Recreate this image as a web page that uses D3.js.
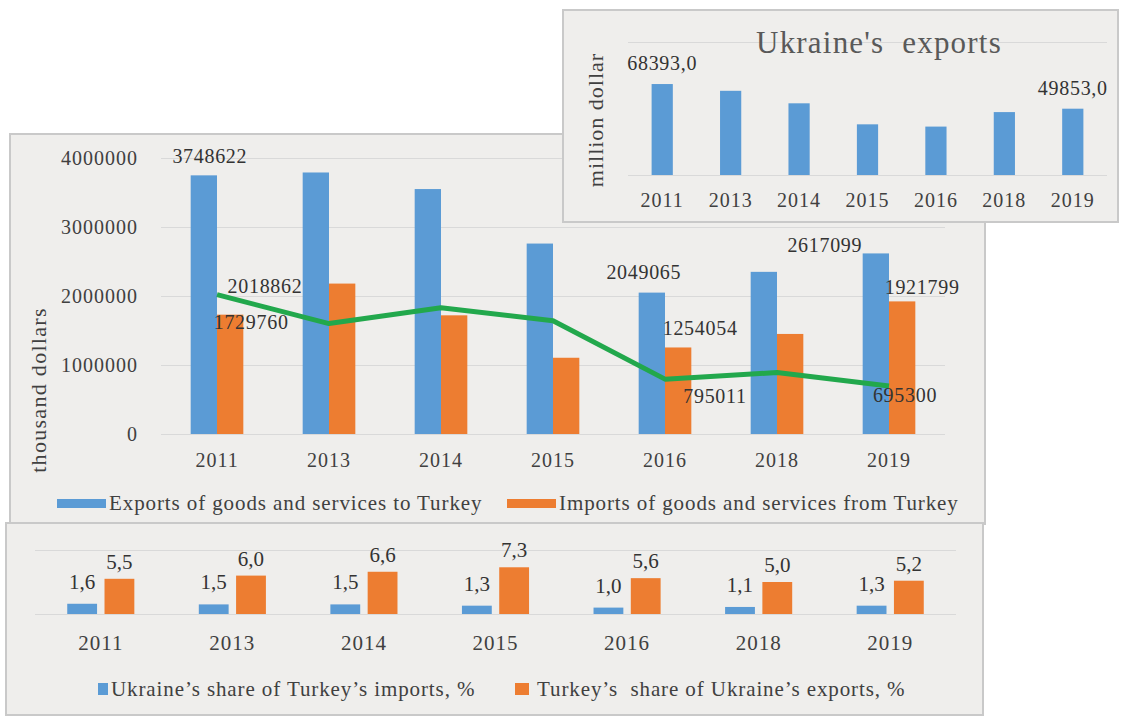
<!DOCTYPE html>
<html>
<head>
<meta charset="utf-8">
<script src="https://cdn.jsdelivr.net/npm/d3@7"></script>
<style>
  body { margin: 0; background: #fff; }
  svg { display: block; font-family: "Liberation Serif", "Times New Roman", serif; }
  text { white-space: pre; }
</style>
</head>
<body>
<svg id="chart" width="1124" height="717"></svg>
<script>
// categories shared by all three panels
const years = ['2011', '2013', '2014', '2015', '2016', '2018', '2019'];

// main panel, thousand dollars
const exportsToTurkey = [3748622, 3790000, 3550000, 2760000, 2049065, 2350000, 2617099];
const importsFromTurkey = [1729760, 2180000, 1720000, 1105000, 1254054, 1450000, 1921799];
const balanceLine = [2018862, 1600000, 1830000, 1640000, 795011, 890000, 695300];
const mainTicks = [0, 1000000, 2000000, 3000000, 4000000];
const labelledYears = ['2011', '2016', '2019']; // only these got data labels

// top panel, million dollar
const ukraineExports = [68393, 63300, 53900, 38100, 36400, 47300, 49853];
const ukraineLabelled = ['2011', '2019'];

// bottom panel, %
const shareTurkeyImports = [1.6, 1.5, 1.5, 1.3, 1.0, 1.1, 1.3];
const shareUkraineExports = [5.5, 6.0, 6.6, 7.3, 5.6, 5.0, 5.2];

const blue = '#5b9bd5';
const orange = '#ed7d31';
const green = '#22a84c';
const panelFill = '#efeeec';
const panelStroke = '#c9c9c9';
const gridColor = '#d9d9d9';
const textColor = '#404040';

const comma = d3.formatLocale({ decimal: ',', thousands: ' ', grouping: [3], currency: ['', ''] }).format('.1f');

const svg = d3.select('#chart');

function panel(x, y, w, h) {
  svg.append('rect')
    .attr('x', x).attr('y', y).attr('width', w).attr('height', h)
    .attr('fill', panelFill).attr('stroke', panelStroke).attr('stroke-width', 2);
}

function styleAxis(g, size) {
  g.select('.domain').remove();
  g.selectAll('text').attr('fill', textColor).attr('font-size', size)
    .attr('letter-spacing', 1)
    .attr('font-family', '"Liberation Serif", serif');
}

// ---------- main panel ----------
panel(10, 134, 975, 390);

const x = d3.scaleBand().domain(years).range([161, 945]).paddingInner(0.53).paddingOuter(0.265);
const xs = d3.scaleBand().domain(['exp', 'imp']).range([0, x.bandwidth()]);
const y = d3.scaleLinear().domain([0, 4000000]).range([434, 158]);

svg.append('g').attr('transform', 'translate(161,0)')
  .call(d3.axisLeft(y).tickValues(mainTicks).tickSize(-(945 - 161)).tickPadding(23).tickFormat(d3.format('d')))
  .call((g) => {
    styleAxis(g, 20);
    g.selectAll('line').attr('stroke', gridColor);
  });

svg.append('g').attr('transform', 'translate(0,434)')
  .call(d3.axisBottom(x).tickSize(0).tickPadding(19))
  .call((g) => styleAxis(g, 20));

const groups = svg.append('g').selectAll('g').data(years).join('g')
  .attr('transform', (d) => `translate(${x(d)},0)`);

groups.append('rect')
  .attr('x', xs('exp')).attr('width', xs.bandwidth())
  .attr('y', (d, i) => y(exportsToTurkey[i]))
  .attr('height', (d, i) => y(0) - y(exportsToTurkey[i]))
  .attr('fill', blue);

groups.append('rect')
  .attr('x', xs('imp')).attr('width', xs.bandwidth())
  .attr('y', (d, i) => y(importsFromTurkey[i]))
  .attr('height', (d, i) => y(0) - y(importsFromTurkey[i]))
  .attr('fill', orange);

const line = d3.line()
  .x((d, i) => x(years[i]) + x.bandwidth() / 2)
  .y((d) => y(d));

svg.append('path').datum(balanceLine)
  .attr('d', line)
  .attr('fill', 'none').attr('stroke', green).attr('stroke-width', 5)
  .attr('stroke-linejoin', 'round');

// hand-nudged label offsets, like the original chart (dx, dy from the mark)
const expNudge = { 2011: [6, -12], 2016: [-8, -14], 2019: [-51, -1] };
const impNudge = { 2011: [21, 14], 2016: [22, -12], 2019: [20, -7] };
const lineNudge = { 2011: [48, -2], 2016: [50, 24], 2019: [16, 16] };

const labels = svg.append('g').attr('font-size', 20).attr('fill', '#333')
  .attr('text-anchor', 'middle').attr('letter-spacing', 0.7);
labelledYears.forEach((yr) => {
  const i = years.indexOf(yr);
  const cx = x(yr);
  labels.append('text')
    .attr('x', cx + xs('exp') + xs.bandwidth() / 2 + expNudge[yr][0])
    .attr('y', y(exportsToTurkey[i]) + expNudge[yr][1])
    .text(exportsToTurkey[i]);
  labels.append('text')
    .attr('x', cx + xs('imp') + xs.bandwidth() / 2 + impNudge[yr][0])
    .attr('y', y(importsFromTurkey[i]) + impNudge[yr][1])
    .text(importsFromTurkey[i]);
  labels.append('text')
    .attr('x', cx + x.bandwidth() / 2 + lineNudge[yr][0])
    .attr('y', y(balanceLine[i]) + lineNudge[yr][1])
    .text(balanceLine[i]);
});

svg.append('text')
  .attr('transform', 'translate(46,390) rotate(-90)')
  .attr('text-anchor', 'middle').attr('font-size', 22).attr('fill', textColor)
  .attr('letter-spacing', 1.3)
  .text('thousand dollars');

// legend
const mainLegend = [
  { name: 'Exports of goods and services to Turkey', color: blue, x: 57 },
  { name: 'Imports of goods and services from Turkey', color: orange, x: 507 },
];
const ml = svg.append('g').selectAll('g').data(mainLegend).join('g')
  .attr('transform', (d) => `translate(${d.x},499)`);
ml.append('rect').attr('width', 49).attr('height', 9).attr('fill', (d) => d.color);
ml.append('text').attr('x', 52).attr('y', 11).attr('font-size', 21).attr('fill', textColor)
  .attr('letter-spacing', 0.9)
  .text((d) => d.name);

// ---------- top panel: Ukraine's exports ----------
panel(563, 10, 555, 212);

const tx = d3.scaleBand().domain(years).range([628, 1107]).paddingInner(0.69).paddingOuter(0.345);
const ty = d3.scaleLinear().domain([0, 100000]).range([175, 42]);

svg.append('g').attr('transform', 'translate(628,0)')
  .call(d3.axisLeft(ty).tickValues([0, 100000]).tickSize(-(1107 - 628)).tickFormat(''))
  .call((g) => {
    g.select('.domain').remove();
    g.selectAll('line').attr('stroke', gridColor);
  });

svg.append('g').attr('transform', 'translate(0,175)')
  .call(d3.axisBottom(tx).tickSize(0).tickPadding(18))
  .call((g) => styleAxis(g, 20));

svg.append('g').selectAll('rect').data(ukraineExports).join('rect')
  .attr('x', (d, i) => tx(years[i])).attr('width', tx.bandwidth())
  .attr('y', (d) => ty(d)).attr('height', (d) => ty(0) - ty(d))
  .attr('fill', blue);

svg.append('g').attr('font-size', 20).attr('fill', '#333').attr('text-anchor', 'middle')
  .attr('letter-spacing', 0.7)
  .selectAll('text').data(ukraineLabelled).join('text')
  .attr('x', (d) => tx(d) + tx.bandwidth() / 2)
  .attr('y', (d) => ty(ukraineExports[years.indexOf(d)]) - 14)
  .text((d) => comma(ukraineExports[years.indexOf(d)]));

svg.append('text')
  .attr('x', 879).attr('y', 53)
  .attr('text-anchor', 'middle').attr('font-size', 31).attr('fill', '#595959')
  .attr('letter-spacing', 1.2)
  .text("Ukraine's  exports");

svg.append('text')
  .attr('transform', 'translate(603,120) rotate(-90)')
  .attr('text-anchor', 'middle').attr('font-size', 22).attr('fill', textColor)
  .attr('letter-spacing', 1)
  .text('million dollar');

// ---------- bottom panel: shares ----------
panel(6, 523, 977, 192);

const bx = d3.scaleBand().domain(years).range([35, 956]).paddingInner(0.49).paddingOuter(0.245);
const bs = d3.scaleBand().domain(['imp', 'exp']).range([0, bx.bandwidth()]).paddingInner(0.2);
const by = d3.scaleLinear().domain([0, 10]).range([614, 550]);

svg.append('g').attr('transform', 'translate(35,0)')
  .call(d3.axisLeft(by).tickValues([0, 10]).tickSize(-(956 - 35)).tickFormat(''))
  .call((g) => {
    g.select('.domain').remove();
    g.selectAll('line').attr('stroke', gridColor);
  });

svg.append('g').attr('transform', 'translate(0,614)')
  .call(d3.axisBottom(bx).tickSize(0).tickPadding(21))
  .call((g) => styleAxis(g, 21));

const bg = svg.append('g').selectAll('g').data(years).join('g')
  .attr('transform', (d) => `translate(${bx(d)},0)`);

bg.append('rect')
  .attr('x', bs('imp')).attr('width', bs.bandwidth())
  .attr('y', (d, i) => by(shareTurkeyImports[i]))
  .attr('height', (d, i) => by(0) - by(shareTurkeyImports[i]))
  .attr('fill', blue);
bg.append('rect')
  .attr('x', bs('exp')).attr('width', bs.bandwidth())
  .attr('y', (d, i) => by(shareUkraineExports[i]))
  .attr('height', (d, i) => by(0) - by(shareUkraineExports[i]))
  .attr('fill', orange);

bg.append('text')
  .attr('x', bs('imp') + bs.bandwidth() / 2)
  .attr('y', (d, i) => by(shareTurkeyImports[i]) - 15)
  .attr('text-anchor', 'middle').attr('font-size', 21).attr('fill', '#333')
  .text((d, i) => comma(shareTurkeyImports[i]));
bg.append('text')
  .attr('x', bs('exp') + bs.bandwidth() / 2)
  .attr('y', (d, i) => by(shareUkraineExports[i]) - 10)
  .attr('text-anchor', 'middle').attr('font-size', 21).attr('fill', '#333')
  .text((d, i) => comma(shareUkraineExports[i]));

const bottomLegend = [
  { name: 'Ukraine’s share of Turkey’s imports, %', color: blue, x: 98 },
  { name: 'Turkey’s  share of Ukraine’s exports, %', color: orange, x: 515 },
];
const bl = svg.append('g').selectAll('g').data(bottomLegend).join('g')
  .attr('transform', (d) => `translate(${d.x},683)`);
bl.append('rect').attr('width', (d, i) => (i === 0 ? 10 : 14)).attr('height', 12).attr('fill', (d) => d.color);
bl.append('text').attr('x', (d, i) => (i === 0 ? 13 : 22)).attr('y', 13).attr('font-size', 21).attr('fill', textColor)
  .attr('letter-spacing', 0.9)
  .text((d) => d.name);
</script>
</body>
</html>
